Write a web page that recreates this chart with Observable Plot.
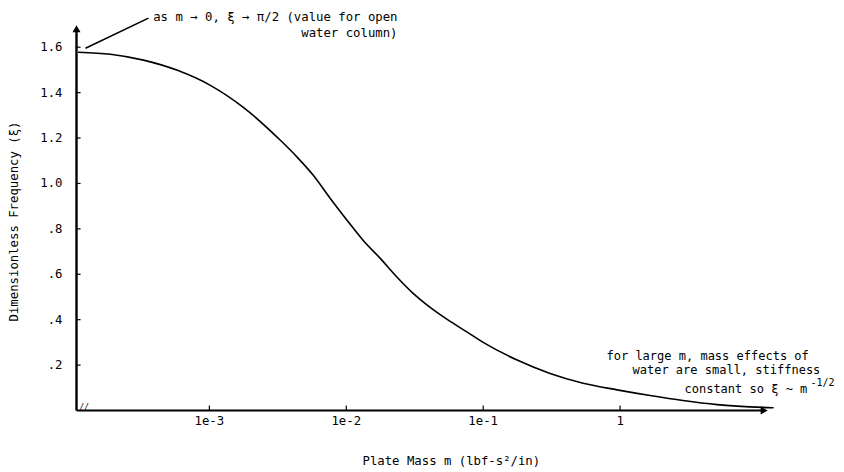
<!DOCTYPE html>
<html><head><meta charset="utf-8">
<script src="https://cdn.jsdelivr.net/npm/d3@7"></script>
<script src="https://cdn.jsdelivr.net/npm/@observablehq/plot@0.6"></script>
<style>body{margin:0;background:#fff}svg{display:block}</style>
</head><body><div id="chart"></div>
<script>
// Plate mass m (lbf-s^2/in)
const mass = [1.107e-4, 1.892e-4, 3.30e-4, 5.84e-4, 1.016e-3, 1.77e-3, 3.30e-3, 4.39e-3,
  5.74e-3, 7.64e-3, 1.016e-2, 1.33e-2, 1.77e-2, 2.36e-2, 3.08e-2, 4.10e-2, 5.46e-2,
  7.64e-2, 0.1, 0.177, 0.308, 0.537, 0.951, 1.66, 2.88, 5.11, 13.1];
// Dimensionless frequency
const freq = [1.578, 1.569, 1.543, 1.498, 1.432, 1.335, 1.190, 1.115,
  1.036, 0.934, 0.837, 0.749, 0.670, 0.586, 0.516, 0.454, 0.401,
  0.345, 0.300, 0.222, 0.163, 0.120, 0.091, 0.066, 0.044, 0.026, 0.012];
const xTicks = [1e-3, 1e-2, 1e-1, 1];
const xTickLabels = ["1e-3", "1e-2", "1e-1", "1"];
const yTicks = [0.2, 0.4, 0.6, 0.8, 1.0, 1.2, 1.4, 1.6];
const yTickLabels = [".2", ".4", ".6", ".8", "1.0", "1.2", "1.4", "1.6"];

const data = mass.map((m, i) => ({m, f: freq[i]}));
const xDomain = [1.07e-4, 13.2];
const yDomain = [0, 1.7];
const xArrowEnd = 11.06, yArrowEnd = 1.676;
const ML = 76, MT = 24;
const font = "DejaVu Sans Mono, Liberation Mono, monospace";

const note = (px, py, text, opts = {}) => Plot.text([text], {
  frameAnchor: "top-left", dx: px - ML, dy: py - MT, textAnchor: "start",
  lineAnchor: "middle", fontSize: 12.3, ...opts
});

const chart = Plot.plot({
  width: 844, height: 472,
  marginLeft: ML, marginRight: 71, marginTop: MT, marginBottom: 62,
  style: {fontFamily: font, fontSize: "12.3px", color: "#000", background: "#fff"},
  x: {type: "log", domain: xDomain, ticks: xTicks,
      tickFormat: d => xTickLabels[xTicks.indexOf(d)], tickSize: 0, tickPadding: 6, label: null},
  y: {domain: yDomain, ticks: yTicks,
      tickFormat: d => yTickLabels[yTicks.findIndex(t => Math.abs(t - d) < 1e-9)],
      tickSize: 0, tickPadding: 14, label: null},
  marks: [
    // axis lines
    Plot.link([0], {x1: xDomain[0], y1: 0, x2: xDomain[0], y2: yArrowEnd,
      stroke: "#000", strokeWidth: 2.4}),
    Plot.link([0], {x1: xDomain[0], y1: 0, x2: xArrowEnd, y2: 0,
      stroke: "#000", strokeWidth: 2}),
    // filled arrowheads
    Plot.dot([0], {x: xDomain[0], y: yArrowEnd, symbol: "triangle", r: 3, fill: "#000", stroke: null}),
    Plot.dot([0], {x: xArrowEnd, y: 0, symbol: "triangle", r: 3, fill: "#000", stroke: null, rotate: 90}),
    // inward ticks
    Plot.ruleX(xTicks, {x: d => d, y1: 0, y2: 0.02, stroke: "#000", strokeWidth: 1.2}),
    Plot.ruleY(yTicks, {y: d => d, x1: xDomain[0], x2: xDomain[0] * 1.08, stroke: "#000", strokeWidth: 1.2}),
    // curve
    Plot.line(data, {x: "m", y: "f", curve: "monotone-x", stroke: "#000", strokeWidth: 1.6}),
    // axis break mark
    note(79, 407, "//", {fontSize: 8, fontStyle: "italic"}),
    // axis titles
    note(362, 461, "Plate Mass m (lbf-s\u00B2/in)"),
    Plot.text(["Dimensionless Frequency (\u03BE)"], {frameAnchor: "left", dx: -62, dy: 4,
      rotate: -90, textAnchor: "middle", lineAnchor: "middle", fontSize: 12.3}),
    // top-left annotation
    Plot.link([0], {x1: 1.245e-4, y1: 1.595, x2: 3.59e-4, y2: 1.728, stroke: "#000", strokeWidth: 1.6}),
    note(397, 17, "as m \u2192 0, \u03BE \u2192 \u03C0/2 (value for open", {textAnchor: "end"}),
    note(397, 33, "water column)", {textAnchor: "end"}),
    // bottom-right annotation
    note(606, 356, "for large m, mass effects of", {fontSize: 12}),
    note(632, 370, "water are small, stiffness", {fontSize: 12}),
    note(684, 389, "constant so \u03BE ~ m", {fontSize: 12}),
    note(810, 382, "-1/2", {fontSize: 10})
  ]
});
document.getElementById("chart").appendChild(chart);
</script>
</body></html>
